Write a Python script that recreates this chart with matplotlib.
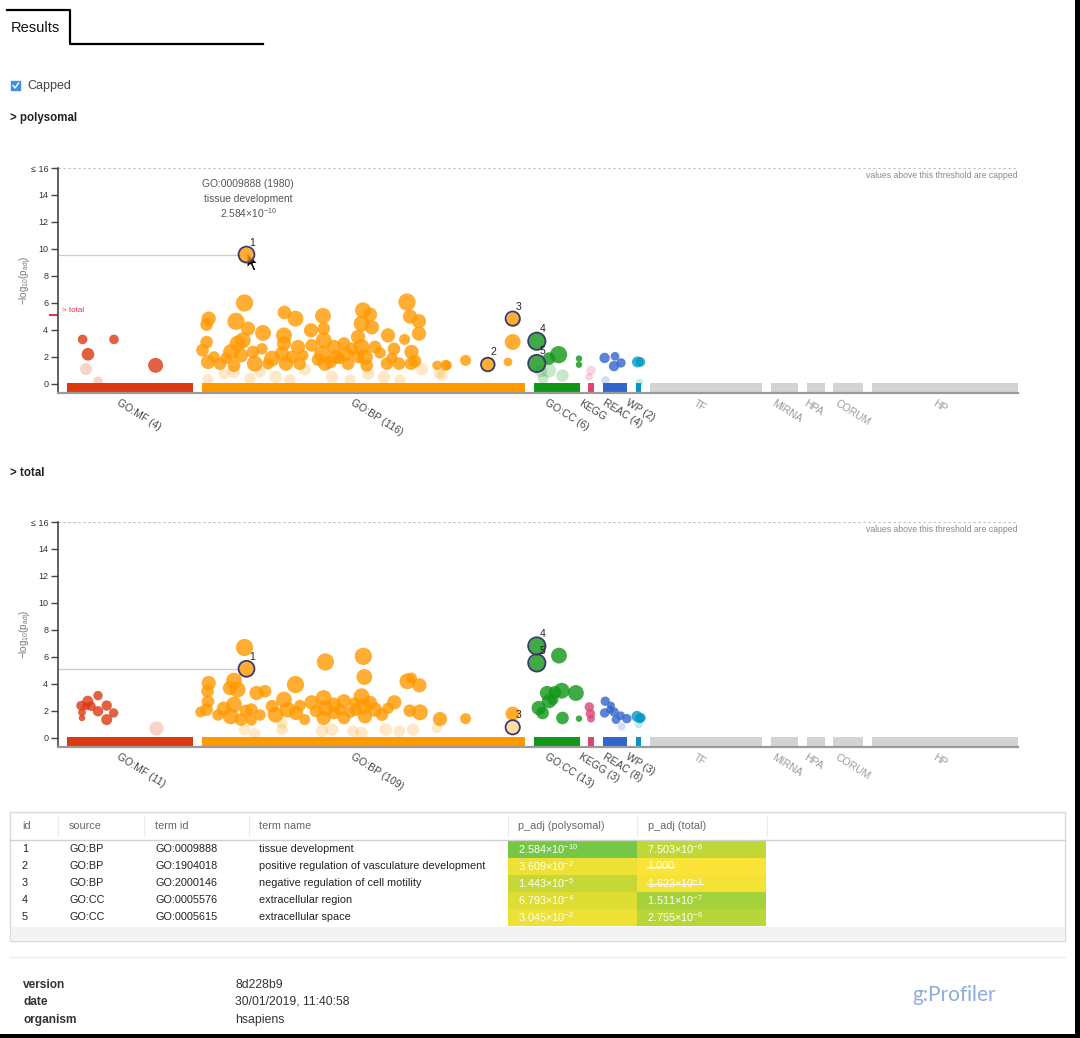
import numpy as np
import matplotlib
matplotlib.use('Agg')
import matplotlib.pyplot as plt
from matplotlib.colors import LinearSegmentedColormap
from matplotlib.patches import Rectangle, Polygon

plt.rcParams['font.family'] = ['Liberation Sans', 'DejaVu Sans']
plt.rcParams['mathtext.fontset'] = 'custom'
plt.rcParams['mathtext.rm'] = 'Liberation Sans'
plt.rcParams['mathtext.default'] = 'regular'

# --- data ---------------------------------------------------------------
sources = ['GO:MF', 'GO:BP', 'GO:CC', 'KEGG', 'REAC', 'WP', 'TF', 'MIRNA', 'HPA', 'CORUM', 'HP']
source_colors = ['#dc3912', '#ff9900', '#109618', '#dd4477', '#3366cc', '#0099c6',
                 '#d3d3d3', '#d3d3d3', '#d3d3d3', '#d3d3d3', '#d3d3d3']
# extent of every source along the term axis
source_start = [66.5, 202, 534, 588, 603, 636, 650, 771, 807, 833, 872]
source_end = [193, 525, 580, 594, 627, 641, 762, 798, 825, 863, 1018]

n_poly = [4, 116, 6, 0, 4, 2, None, None, None, None, None]
n_total = [11, 109, 13, 3, 8, 3, None, None, None, None, None]

# highlighted terms (table)
term_ids = ['1', '2', '3', '4', '5']
term_src = ['GO:BP', 'GO:BP', 'GO:BP', 'GO:CC', 'GO:CC']
term_goid = ['GO:0009888', 'GO:1904018', 'GO:2000146', 'GO:0005576', 'GO:0005615']
term_name = ['tissue development', 'positive regulation of vasculature development',
             'negative regulation of cell motility', 'extracellular region', 'extracellular space']
p_poly = [2.584e-10, 3.609e-2, 1.443e-5, 6.793e-4, 3.045e-2]
p_total = [7.503e-6, 1.000, 1.623e-1, 1.511e-7, 2.755e-6]
p_poly_txt = [('2.584', '-10'), ('3.609', '-2'), ('1.443', '-5'), ('6.793', '-4'), ('3.045', '-2')]
p_total_txt = [('7.503', '-6'), ('1.000', None), ('1.623', '-1'), ('1.511', '-7'), ('2.755', '-6')]
term_pos = [246.5, 487.8, 512.7, 536.8, 536.8]
term_size = [6.9, 5.9, 6.2, 7.5, 7.5]

# other terms: (position, -log10 p_adj, dot radius)
poly_mf = [(82.6, 3.3, 4.2), (114, 3.3, 4.2), (88, 2.2, 5.5), (155.6, 1.38, 6.5),
           (86, 1.1, 5.2), (98, 0.2, 4.2)]
poly_bp = [(244.5, 6.0, 7.5), (208.7, 4.84, 6.2), (206.6, 4.4, 5.5), (236, 4.64, 7.5),
           (248, 4.1, 6.2), (263, 3.78, 6.9), (284.4, 5.3, 5.9), (295.5, 4.84, 6.9),
           (311, 3.97, 6.2), (323, 5.04, 6.9), (323.7, 4.1, 5.5), (363, 5.46, 6.9),
           (370, 5.14, 6.2), (361.6, 4.47, 6.9), (372, 4.2, 6.2), (407, 6.07, 7.5),
           (410, 5.0, 6.2), (419, 4.64, 6.2), (419, 3.73, 6.2), (388, 3.6, 6.2),
           (404.6, 3.3, 4.8), (394, 2.6, 5.5), (411.5, 2.37, 6.2), (415, 1.7, 5.5),
           (387, 1.5, 5.5), (399, 1.5, 5.5), (411, 1.5, 5.5), (437, 1.38, 4.1),
           (447, 1.38, 4.1), (465.6, 1.75, 4.8), (508, 1.63, 3.8), (512.7, 3.11, 6.9),
           (445.7, 1.38, 4.8),
           (202.5, 2.5, 5.5), (206.6, 3.1, 5.5), (208, 1.63, 6.2), (220, 1.5, 5.5),
           (231, 2.37, 6.9), (237.6, 3.0, 6.9), (242.8, 3.23, 6.9), (241, 2.12, 6.2),
           (234, 1.35, 5.5), (254.8, 1.5, 6.9), (253, 2.37, 5.5), (272, 1.88, 6.9),
           (284, 3.6, 6.9), (284, 3.0, 6.2), (282, 2.25, 6.2), (286, 1.5, 6.2),
           (298, 2.74, 6.2), (299.6, 1.5, 5.5), (311.6, 2.86, 5.5), (323.7, 3.23, 6.9),
           (322, 2.25, 6.9), (325, 1.5, 6.2), (334, 2.74, 6.2), (335.7, 2.0, 6.2),
           (344, 3.0, 5.5), (346, 2.25, 6.2), (348, 1.5, 5.5), (358, 3.48, 6.2),
           (361.6, 2.74, 6.9), (365, 2.0, 6.9), (366.7, 1.38, 5.5), (375, 2.74, 5.5),
           (358, 2.0, 5.5), (330.6, 1.63, 5.5), (303, 2.12, 4.8), (214, 2.0, 5.0),
           (226, 1.9, 5.0), (262, 2.6, 5.0), (292, 2.0, 5.5), (318, 1.8, 5.5),
           (340, 1.9, 5.0), (352, 2.6, 5.5), (380, 2.3, 5.0), (392, 1.9, 5.0),
           (268, 1.5, 5.0),
           (208, 0.32, 4.8), (224, 0.77, 4.8), (234, 0.9, 5.5), (275.5, 0.52, 5.5),
           (304.7, 1.1, 5.5), (332, 0.5, 5.5), (368, 0.77, 5.5), (384, 0.5, 5.5),
           (421.8, 1.1, 5.5), (439, 0.8, 4.8), (442, 0.64, 4.8), (250, 0.4, 5.0),
           (290, 0.3, 5.0), (350, 0.3, 5.0), (400, 0.3, 5.0), (260, 0.9, 5.0)]
poly_cc = [(558.6, 2.17, 7.5), (549, 1.88, 5.5), (579, 1.88, 2.8), (579, 1.43, 2.8),
           (541, 0.96, 5.5), (549, 1.0, 6.2), (562.5, 0.62, 5.5), (543, 0.4, 4.8)]
poly_kegg = [(591, 1.0, 4.2), (589, 0.52, 3.4)]
poly_reac = [(604.6, 1.93, 4.5), (615, 2.05, 3.8), (621, 1.56, 4.1), (614, 1.32, 4.5),
             (604.6, 0.27, 3.8)]
poly_wp = [(637.5, 1.63, 4.8), (640.5, 1.63, 4.1), (639, 0.15, 3.4)]

total_mf = [(98, 3.14, 4.1), (87.8, 2.72, 4.8), (81, 2.4, 4.1), (91, 2.35, 4.1),
            (106.7, 2.4, 4.5), (98, 1.98, 4.5), (113.6, 1.85, 4.1), (106.7, 1.36, 4.8),
            (82, 1.9, 3.4), (82, 1.48, 2.8), (86, 2.35, 3.4), (155.6, 0.74, 6.2)]
total_bp = [(244.5, 6.7, 7.5), (208.7, 4.07, 6.2), (207.6, 3.46, 5.5), (208, 2.7, 5.5),
            (206.6, 2.1, 5.5), (200.8, 1.93, 4.8), (234, 4.25, 6.9), (237.6, 3.58, 6.9),
            (230, 3.7, 6.2), (256.5, 3.33, 6.2), (265, 3.46, 5.5), (295.5, 3.95, 7.5),
            (325.4, 5.63, 7.5), (363.3, 6.05, 7.5), (364.3, 4.52, 6.9), (407.4, 4.2, 6.9),
            (419.4, 3.9, 6.2), (411.5, 4.44, 4.8), (394.3, 2.64, 6.2), (409.8, 2.02, 5.5),
            (420, 1.9, 6.9), (440, 1.4, 6.2), (465.6, 1.43, 4.8), (512.7, 1.8, 6.2),
            (223.8, 2.17, 6.2), (234, 2.47, 6.9), (230.7, 1.6, 6.9), (241, 1.36, 5.5),
            (251.4, 2.1, 5.5), (251.4, 1.32, 4.8), (272, 2.35, 5.5), (275.5, 1.73, 6.9),
            (284, 2.84, 6.9), (287.5, 2.1, 6.9), (296, 1.85, 6.2), (304.7, 1.36, 4.8),
            (311.6, 2.64, 6.2), (323.7, 2.96, 6.9), (325.4, 2.22, 6.9), (323.7, 1.48, 6.2),
            (334, 2.47, 6.2), (344, 2.72, 6.2), (344, 1.48, 5.5), (361.6, 3.09, 6.9),
            (363.3, 2.35, 6.9), (370, 2.6, 6.2), (365, 1.6, 6.2), (375, 2.1, 6.2),
            (382, 1.73, 5.5), (356, 2.1, 5.5), (334, 1.85, 5.5), (354.7, 2.6, 4.8),
            (218, 1.7, 5.0), (246, 2.0, 5.5), (260, 1.7, 5.0), (300, 2.4, 5.0),
            (316, 2.0, 5.5), (340, 2.1, 5.0), (350, 1.9, 5.0), (388, 2.2, 5.0),
            (244.5, 0.62, 5.0), (254.8, 0.32, 5.0), (282, 0.62, 5.0), (322, 0.5, 5.5),
            (332, 0.62, 5.5), (353, 0.5, 5.0), (361.6, 0.37, 5.5), (385.7, 0.62, 5.5),
            (399.4, 0.5, 5.0), (413, 0.62, 5.5), (437, 0.74, 4.5), (282, 1.1, 5.0)]
total_cc = [(559, 6.1, 6.9), (547, 3.33, 6.2), (561.7, 3.5, 6.9), (575.9, 3.33, 6.9),
            (554.8, 3.38, 5.5), (549, 2.72, 6.2), (538.7, 2.22, 6.2), (542.6, 1.85, 5.5),
            (562.5, 1.48, 5.5), (579, 1.43, 2.8), (553, 2.84, 4.8)]
total_kegg = [(589.3, 2.3, 4.1), (590.4, 1.8, 4.1), (591, 1.43, 3.4)]
total_reac = [(605.3, 2.72, 4.1), (604.6, 1.85, 4.1), (614, 1.93, 4.1), (616, 1.36, 3.8),
              (620.6, 1.65, 3.8), (626.8, 1.43, 4.1), (610, 2.1, 3.4), (611, 2.4, 3.4),
              (620.6, 0.86, 3.4)]
total_wp = [(637, 1.6, 4.8), (641, 1.5, 4.1), (639.8, 1.43, 4.1), (638, 1.06, 3.4)]

poly_terms = [poly_mf, poly_bp, poly_cc, poly_kegg, poly_reac, poly_wp]
total_terms = [total_mf, total_bp, total_cc, total_kegg, total_reac, total_wp]
shown_poly = ['1', '2', '3', '4', '5']
shown_total = ['1', '3', '4', '5']

threshold = -np.log10(0.05)
W, H = 1080, 1038
DOT = 1.44 * 1.15  # radius (px) -> marker diameter (pt)


def fx(px):
    return px / W


def fy(py):
    return 1 - py / H


fig = plt.figure(figsize=(W / 100, H / 100), dpi=100)
bg = fig.add_axes([0, 0, 1, 1], zorder=0)
bg.set_xlim(0, W)
bg.set_ylim(H, 0)
bg.axis('off')


def draw_panel(top_px, terms, counts, shown, pvals, hover_val):
    ax = fig.add_axes([fx(58), fy(top_px + 225), fx(960), 225 / H], zorder=2)
    ax.set_facecolor('none')
    ax.set_xlim(58, 1018)
    ax.set_ylim(-0.67, 16)
    for s in ['top', 'right']:
        ax.spines[s].set_visible(False)
    ax.spines['left'].set_color('#444444')
    ax.spines['left'].set_linewidth(1.2)
    ax.spines['bottom'].set_color('#9a9a9a')
    ax.spines['bottom'].set_linewidth(1.6)
    ax.set_xticks([])
    ax.set_yticks(range(0, 17, 2))
    ax.set_yticklabels([str(v) for v in range(0, 16, 2)] + ['≤ 16'])
    ax.tick_params(axis='y', length=5, width=1, color='#444444', labelsize=6.5,
                   labelcolor='#333333', pad=2)
    ax.set_ylabel('−log$_{10}$(p$_{adj}$)', fontsize=7, color='#777777')
    ax.yaxis.set_label_coords(-0.025, 0.5)

    ax.axhline(16, color='#bbbbbb', lw=0.8, ls=(0, (2, 2.5)))
    ax.text(1018, 15.75, 'values above this threshold are capped', ha='right', va='top',
            fontsize=6.2, color='#888888')

    # source bars and labels
    for i, src in enumerate(sources):
        ax.bar(source_start[i], -0.62, width=source_end[i] - source_start[i],
               bottom=0.05, align='edge', color=source_colors[i], zorder=1)
        cnt = counts[i]
        if cnt is None:
            lab, col = src, '#9a9a9a'
        elif cnt == 0:
            lab, col = src, '#444444'
        else:
            lab, col = f'{src} ({cnt})', '#444444'
        cx = (source_start[i] + source_end[i]) / 2
        ax.annotate(lab, xy=(cx, 0), xycoords=('data', 'axes fraction'),
                    xytext=(-9, -5), textcoords='offset pixels', ha='left', va='top',
                    rotation=-32, rotation_mode='anchor', fontsize=7.5, color=col)

    # term dots
    for i, pts in enumerate(terms):
        pts = np.array(pts)
        sig = pts[:, 1] >= threshold
        for mask, a in [(~sig, 0.22), (sig, 0.8)]:
            ax.scatter(pts[mask, 0], pts[mask, 1], s=(DOT * pts[mask, 2]) ** 2,
                       color=source_colors[i], alpha=a, linewidths=0, zorder=3)

    # highlighted terms
    for k, tid in enumerate(term_ids):
        if tid not in shown:
            continue
        v = -np.log10(pvals[k])
        col = source_colors[sources.index(term_src[k])]
        a = 0.8 if v >= threshold else 0.35
        ax.scatter([term_pos[k]], [v], s=(DOT * term_size[k]) ** 2, color=col, alpha=a,
                   linewidths=0, zorder=4)
        ax.scatter([term_pos[k]], [v], s=(DOT * term_size[k]) ** 2, facecolors='none',
                   edgecolors='#3b3a6b', linewidths=1.3, zorder=5)
        ax.annotate(tid, xy=(term_pos[k], v), xytext=(6, 12), textcoords='offset pixels',
                    ha='center', va='center', fontsize=7.5, color='#222222', zorder=6)

    ax.plot([58, 240], [hover_val, hover_val], color='#cccccc', lw=0.9, zorder=2)
    return ax


ax1 = draw_panel(168, poly_terms, n_poly, shown_poly, p_poly, -np.log10(p_poly[0]))
ax2 = draw_panel(522, total_terms, n_total, shown_total, p_total, -np.log10(p_total[0]))

# tooltip and "> total" marker on the polysomal plot
ax1.text(248, 14.8, 'GO:0009888 (1980)', ha='center', va='center', fontsize=7.4, color='#555555')
ax1.text(248, 13.7, 'tissue development', ha='center', va='center', fontsize=7.4, color='#555555')
ax1.text(248, 12.65, '2.584×10$^{-10}$', ha='center', va='center', fontsize=7.4, color='#555555')
v_tot = -np.log10(p_total[0])
ax1.plot([50, 57], [v_tot, v_tot], color='#e8334a', lw=1.5, clip_on=False)
ax1.text(62, v_tot + 0.3, '> total', ha='left', va='center', fontsize=5.8, color='#e8334a')

# cursor arrow
cur = np.array([(0, 0), (0, 15), (3.5, 11.5), (6.5, 18), (9, 17), (6, 10.5), (11, 10.5)])
bg.add_patch(Polygon(cur + [247, 253], closed=True, facecolor='black', edgecolor='white',
                     lw=0.8, zorder=10))

# --- page elements ------------------------------------------------------
bg.plot([7, 70, 70, 263], [10, 10, 44, 44], color='black', lw=1.6)
bg.text(11, 28, 'Results', fontsize=10.5, color='#111111', va='center')
bg.add_patch(Rectangle((11, 81), 9, 9, facecolor='#3d8fe8', edgecolor='#3d8fe8'))
bg.plot([13, 15, 18.5], [85.5, 88, 83], color='white', lw=1)
bg.text(27, 85.5, 'Capped', fontsize=9, color='#444444', va='center')
bg.text(10, 118, '> polysomal', fontsize=8.3, fontweight='bold', color='#222222', va='center')
bg.text(10, 473, '> total', fontsize=8.3, fontweight='bold', color='#222222', va='center')

# --- table --------------------------------------------------------------
bg.add_patch(Rectangle((10, 812), 1055, 129, facecolor='white', edgecolor='#d9d9d9', lw=1))
bg.add_patch(Rectangle((10.5, 927), 1054, 13.5, facecolor='#f3f3f3', edgecolor='none'))
bg.plot([10, 1065], [839.5, 839.5], color='#d0d0d0', lw=1)
for xs in [58, 144, 249, 508, 637, 767]:
    bg.plot([xs, xs], [816, 836], color='#ececec', lw=0.8)
headers = ['id', 'source', 'term id', 'term name', 'p_adj (polysomal)', 'p_adj (total)']
header_x = [22, 69, 155, 259, 518, 648]
for h, x in zip(headers, header_x):
    bg.text(x, 826, h, fontsize=7.8, color='#666666', va='center')

cmap = LinearSegmentedColormap.from_list('gp', ['#fbe437', '#dcdd33', '#a8d23b', '#6fc548'])
fig.canvas.draw()
renderer = fig.canvas.get_renderer()
inv = bg.transData.inverted()
for r in range(5):
    yc = 849 + 17 * r
    row = [term_ids[r], term_src[r], term_goid[r], term_name[r]]
    for t, x in zip(row, header_x[:4]):
        bg.text(x, yc, t, fontsize=7.8, color='#222222', va='center')
    for pv, txt, x0 in [(p_poly[r], p_poly_txt[r], 508), (p_total[r], p_total_txt[r], 637)]:
        v = -np.log10(pv)
        bg.add_patch(Rectangle((x0, yc - 8.5), 129, 17, facecolor=cmap(min(v, 10) / 10),
                               edgecolor='none'))
        s = txt[0] if txt[1] is None else f'{txt[0]}×10$^{{{txt[1]}}}$'
        tt = bg.text(x0 + 10, yc, s, fontsize=7.8, color='white', va='center')
        if pv > 0.05:
            bb = tt.get_window_extent(renderer)
            x_end = inv.transform((bb.x1, bb.y0))[0]
            bg.plot([x0 + 10, x_end], [yc + 0.5, yc + 0.5], color='white', lw=0.8)

# --- footer -------------------------------------------------------------
bg.plot([10, 1065], [957, 957], color='#eeeeee', lw=1)
for lab, val, y in [('version', '8d228b9', 985), ('date', '30/01/2019, 11:40:58', 1002),
                    ('organism', 'hsapiens', 1020)]:
    bg.text(23, y, lab, fontsize=8.6, fontweight='bold', color='#333333', va='center')
    bg.text(235, y, val, fontsize=8.8, color='#333333', va='center')
bg.text(954, 995, 'g:Profiler', fontsize=15, color='#8eabd9', ha='center', va='center',
        family='Lato')

# screenshot frame
bg.add_patch(Rectangle((1075, 0), 5, H, facecolor='black', edgecolor='none', zorder=20))
bg.add_patch(Rectangle((0, 1034), W, 4, facecolor='black', edgecolor='none', zorder=20))

fig.savefig('out.png', dpi=100)
